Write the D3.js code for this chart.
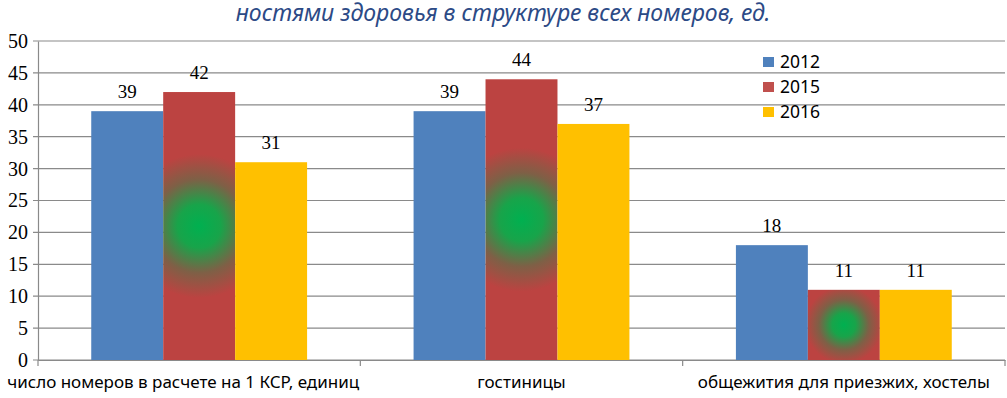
<!DOCTYPE html>
<html>
<head>
<meta charset="utf-8">
<script src="https://cdn.jsdelivr.net/npm/d3@7"></script>
<style>
  body { margin: 0; background: #fff; }
  svg { display: block; }
</style>
</head>
<body>
<script>
// chart data
var categories = ["число номеров в расчете на 1 КСР, единиц", "гостиницы", "общежития для приезжих, хостелы"];
var years = ["2012", "2015", "2016"];
var values2012 = [39, 39, 18];
var values2015 = [42, 44, 11];
var values2016 = [31, 37, 11];
var yTicks = [0, 5, 10, 15, 20, 25, 30, 35, 40, 45, 50];
var title = "ностями здоровья в структуре всех номеров, ед.";

var series = [values2012, values2015, values2016];
var colors = ["#4F81BD", "#C0504D", "#FFC000"];

var w = 1007, h = 398;
var plotLeft = 38, plotRight = 1005, plotTop = 41, plotBottom = 360;

var svg = d3.select("body").append("svg")
    .attr("width", w)
    .attr("height", h);

var defs = svg.append("defs");

// scales
var x0 = d3.scaleBand()
    .domain(categories)
    .range([plotLeft, plotRight])
    .paddingInner(0)
    .paddingOuter(0);

var x1 = d3.scaleBand()
    .domain(years)
    .range([0, x0.bandwidth()])
    .paddingInner(0)
    .paddingOuter(0.74);

var y = d3.scaleLinear()
    .domain([0, 50])
    .range([plotBottom, plotTop]);

// gridlines
svg.append("g")
   .selectAll("line")
   .data(yTicks)
   .enter()
   .append("line")
   .attr("x1", plotLeft - 5)
   .attr("x2", plotRight)
   .attr("y1", function(d) { return y(d); })
   .attr("y2", function(d) { return y(d); })
   .attr("stroke", "#8a8a8a")
   .attr("stroke-width", 1.2);

// y axis
var yAxis = d3.axisLeft()
    .scale(y)
    .tickValues(yTicks)
    .tickSize(0)
    .tickPadding(10);

svg.append("g")
   .attr("transform", "translate(" + plotLeft + ",0)")
   .call(yAxis)
   .call(function(g) {
     g.select(".domain").attr("stroke", "#8a8a8a").attr("stroke-width", 1.2);
     g.selectAll("text")
      .attr("font-family", "Liberation Serif")
      .attr("font-size", "20px")
      .attr("fill", "#000");
   });

// bars
var groups = svg.append("g")
   .selectAll("g")
   .data(categories)
   .enter()
   .append("g")
   .attr("transform", function(d) { return "translate(" + x0(d) + ",0)"; });

groups.selectAll("rect")
   .data(function(d, i) {
     return years.map(function(yr, j) { return { cat: i, year: yr, idx: j, value: series[j][i] }; });
   })
   .enter()
   .append("rect")
   .attr("x", function(d) { return x1(d.year); })
   .attr("y", function(d) { return y(d.value); })
   .attr("width", x1.bandwidth())
   .attr("height", function(d) { return plotBottom - y(d.value); })
   .attr("fill", function(d) {
     if (d.idx !== 1) return colors[d.idx];
     // red bars have a green glow in the middle
     var id = "glow" + d.cat;
     var bh = plotBottom - y(d.value);
     var r = Math.min(bh * 0.55, x1.bandwidth());
     var g = defs.append("radialGradient")
        .attr("id", id)
        .attr("gradientUnits", "userSpaceOnUse")
        .attr("cx", x1(d.year) + x1.bandwidth() / 2)
        .attr("cy", y(d.value) + bh / 2)
        .attr("r", r);
     g.append("stop").attr("offset", "0").attr("stop-color", "#00B050");
     g.append("stop").attr("offset", "0.3").attr("stop-color", "#18A44A");
     g.append("stop").attr("offset", "0.65").attr("stop-color", "#7E6046");
     g.append("stop").attr("offset", "1").attr("stop-color", "#BC4341");
     return "url(#" + id + ")";
   });

// value labels
groups.selectAll("text")
   .data(function(d, i) {
     return years.map(function(yr, j) { return { year: yr, value: series[j][i] }; });
   })
   .enter()
   .append("text")
   .text(function(d) { return d.value; })
   .attr("x", function(d) { return x1(d.year) + x1.bandwidth() / 2; })
   .attr("y", function(d) { return y(d.value) - 13; })
   .attr("text-anchor", "middle")
   .attr("font-family", "Liberation Serif")
   .attr("font-size", "19px")
   .attr("fill", "#000");

// x axis
var xAxis = d3.axisBottom()
    .scale(x0)
    .tickSize(0)
    .tickPadding(14);

svg.append("g")
   .attr("transform", "translate(0," + plotBottom + ")")
   .call(xAxis)
   .call(function(g) {
     g.select(".domain").attr("stroke", "#8a8a8a").attr("stroke-width", 1.2);
     g.selectAll("text")
      .attr("font-family", "Noto Sans")
      .attr("font-size", "17px")
      .attr("fill", "#000")
      .attr("dy", "0.85em")
      .attr("dx", function(d, i) { return i === 0 ? -16 : 0; });
   });

// category separators
svg.append("g")
   .selectAll("line")
   .data(categories.concat(["end"]))
   .enter()
   .append("line")
   .attr("x1", function(d, i) { return i < categories.length ? x0(d) : plotRight; })
   .attr("x2", function(d, i) { return i < categories.length ? x0(d) : plotRight; })
   .attr("y1", plotBottom)
   .attr("y2", plotBottom + 6)
   .attr("stroke", "#8a8a8a")
   .attr("stroke-width", 1.2);

// legend
var legend = svg.append("g")
   .attr("transform", "translate(763,57)");

var items = legend.selectAll("g")
   .data(years)
   .enter()
   .append("g")
   .attr("transform", function(d, i) { return "translate(0," + (i * 25) + ")"; });

items.append("rect")
   .attr("width", 11)
   .attr("height", 10)
   .attr("fill", function(d, i) { return colors[i]; });

items.append("text")
   .text(function(d) { return d; })
   .attr("x", 17)
   .attr("y", 11)
   .attr("font-family", "Noto Sans")
   .attr("font-size", "17.5px")
   .attr("fill", "#000");

// title (top line cropped in the source)
svg.append("text")
   .text(title)
   .attr("x", 503)
   .attr("y", 21)
   .attr("text-anchor", "middle")
   .attr("font-family", "Noto Sans")
   .attr("font-style", "italic")
   .attr("font-size", "23px")
   .attr("fill", "#2C4A86");
</script>
</body>
</html>
